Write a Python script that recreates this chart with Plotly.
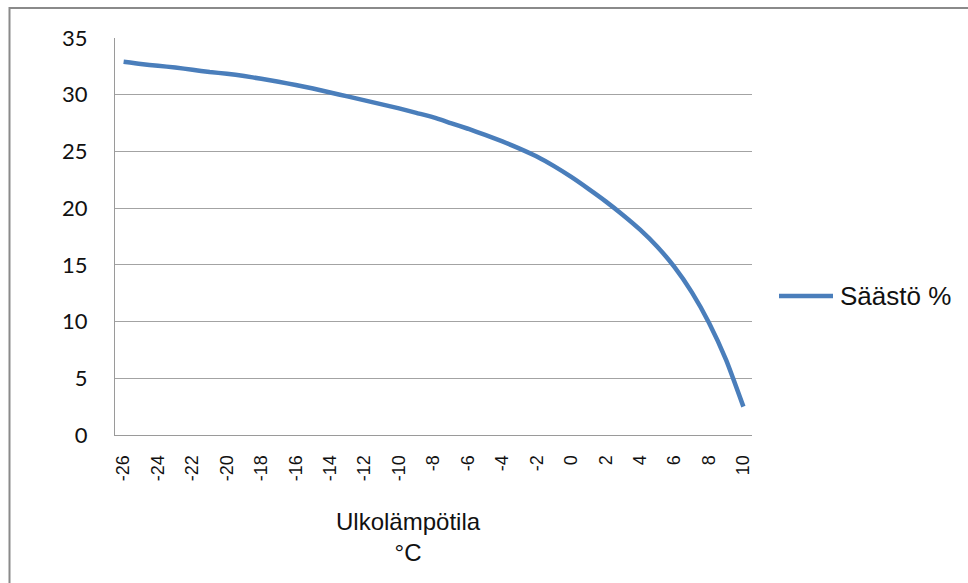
import plotly.graph_objects as go

# Outdoor temperature (°C) and savings (%)
temperatures = list(range(-26, 11))
savings = [
    32.9, 32.7, 32.55, 32.4, 32.2, 32.0, 31.85, 31.65, 31.4, 31.15,
    30.85, 30.55, 30.2, 29.85, 29.5, 29.15, 28.8, 28.4, 28.0, 27.5,
    27.0, 26.45, 25.88, 25.25, 24.55, 23.7, 22.75, 21.7, 20.6, 19.4,
    18.1, 16.6, 14.8, 12.6, 9.9, 6.6, 2.5,
]
x_tick_values = list(range(-26, 11, 2))
y_tick_values = [0, 5, 10, 15, 20, 25, 30, 35]
series_name = "Säästö %"
x_title = "Ulkolämpötila<br>°C"

W, H = 968, 583
L, R, T, B = 115, 752, 37.5, 435
pw, ph = R - L, B - T

def px(xp):
    return (xp - L) / pw

def py(yp):
    return (B - yp) / ph

line_color = "#4A7EBB"

fig = go.Figure()
fig.add_trace(go.Scatter(
    x=temperatures, y=savings, mode="lines", name=series_name,
    line=dict(color=line_color, width=4.5, shape="spline", smoothing=0.5),
    showlegend=False,
))

fig.update_layout(
    width=W, height=H,
    margin=dict(l=L, r=W - R, t=T, b=H - B, pad=0),
    paper_bgcolor="white", plot_bgcolor="white",
    xaxis=dict(
        range=[-26.5, 10.5], tickvals=x_tick_values,
        ticktext=[str(v) for v in x_tick_values],
        tickangle=-90, showgrid=False, zeroline=False,
        showline=True, linecolor="#9a9a9a", linewidth=1.2,
        ticks="", ticklabelstandoff=12,
        tickfont=dict(family="Liberation Sans, Arial", size=18, color="#111"),
        fixedrange=True,
    ),
    yaxis=dict(
        range=[0, 35], tickvals=y_tick_values,
        showgrid=True, gridcolor="#a3a3a3", gridwidth=1.2,
        zeroline=False, showline=True, linecolor="#9a9a9a", linewidth=1.2,
        ticks="", ticklabelstandoff=22,
        tickfont=dict(family="Lato, Carlito, sans-serif", size=22, color="#111"),
        fixedrange=True,
    ),
    showlegend=False,
)

# Chart frame
fig.add_shape(type="rect", xref="paper", yref="paper",
              x0=px(9.5), x1=px(W + 20), y0=py(H + 20), y1=py(7.5),
              line=dict(color="#8a8a8a", width=2), fillcolor="rgba(0,0,0,0)",
              layer="below")

# Legend entry
leg_y = py(295.7)
fig.add_shape(type="line", xref="paper", yref="paper",
              x0=px(779), x1=px(833), y0=leg_y, y1=leg_y,
              line=dict(color=line_color, width=4.5))
fig.add_annotation(xref="paper", yref="paper", x=px(838), y=leg_y,
                   text=series_name, showarrow=False, xanchor="left",
                   yanchor="middle",
                   font=dict(family="Liberation Sans, Arial", size=26, color="#111"))

# Axis title
fig.add_annotation(xref="paper", yref="paper", x=px(408), y=py(506),
                   text=x_title, showarrow=False, xanchor="center",
                   yanchor="top", align="center",
                   font=dict(family="Liberation Sans, Arial", size=24, color="#111"))

fig.write_html("out.html")
